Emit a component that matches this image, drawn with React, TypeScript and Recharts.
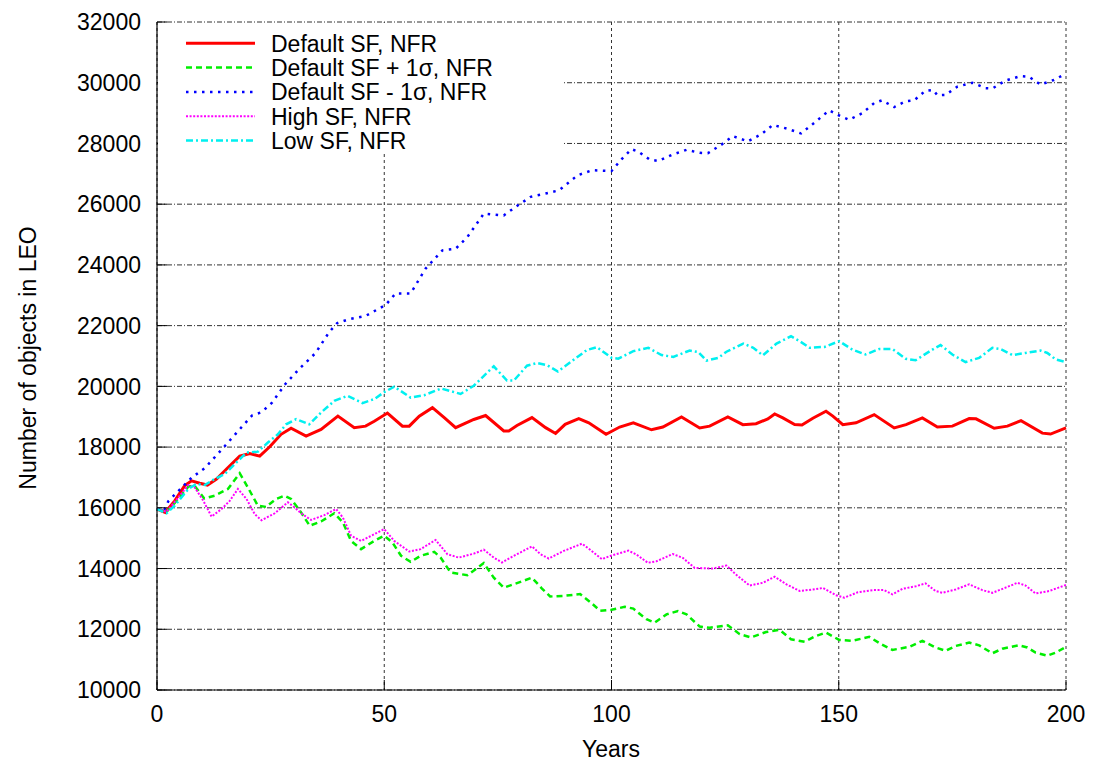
import React from "react";
import { LineChart, Line, XAxis, YAxis, CartesianGrid, Label } from "recharts";

// [year, number of objects]
const defaultSF: number[][] = [
  [0, 15960], [1.8, 15850], [3.9, 16230], [6.1, 16730], [7.6, 16890], [9.4, 16810], [11.1, 16750], [13.1, 16950],
  [15.3, 17280], [18.2, 17700], [20.4, 17790], [22.6, 17700], [24.8, 18010], [27.3, 18420], [29.5, 18620], [32.8, 18360],
  [36.1, 18580], [39.8, 19020], [43.4, 18640], [45.9, 18690], [47.8, 18850], [50.7, 19120], [54, 18690], [55.5, 18690],
  [57.7, 19020], [60.6, 19300], [63.2, 18970], [65.7, 18640], [69.7, 18910], [72.3, 19040], [76.3, 18530], [77.4, 18530],
  [79.2, 18710], [82.5, 18970], [85.5, 18640], [87.7, 18450], [89.8, 18750], [92.8, 18940], [95, 18800], [98.8, 18420],
  [101.8, 18660], [104.8, 18800], [108.8, 18570], [111.3, 18660], [115.4, 18990], [119.4, 18630], [121.6, 18690],
  [125.6, 18990], [128.9, 18740], [131.8, 18770], [134.4, 18930], [135.9, 19090], [137.7, 18960], [140.3, 18740],
  [141.9, 18730], [144.3, 18950], [147.2, 19180], [148.7, 19020], [150.9, 18740], [153.8, 18800], [157.8, 19070],
  [162.2, 18630], [164.8, 18740], [168.4, 18960], [171.7, 18660], [175, 18690], [178.7, 18940], [180.2, 18930],
  [184.2, 18620], [187.1, 18690], [190.1, 18870], [194.8, 18460], [196.6, 18430], [200, 18630],
];

const plusSigma: number[][] = [
  [0, 15960], [2.1, 15870], [4.7, 16290], [6.9, 16700], [8.3, 16720], [10.4, 16310], [12.7, 16400], [15.6, 16620],
  [18.2, 17140], [20, 16670], [22.2, 16070], [24, 16030], [26.2, 16290], [28.1, 16400], [29.5, 16290], [31.7, 15850],
  [33.6, 15410], [36.1, 15550], [39, 15820], [40.9, 15520], [42.7, 14910], [44.9, 14640], [47.8, 14910], [50, 15080],
  [51.8, 14860], [53.7, 14420], [55.8, 14220], [58, 14420], [61, 14550], [62.4, 14360], [64.6, 13870], [68.3, 13780],
  [70.1, 13980], [71.9, 14180], [74.1, 13700], [76.3, 13370], [79.2, 13520], [82.5, 13700], [84.7, 13340], [86.5, 13080],
  [89.5, 13100], [93.1, 13160], [95.3, 12900], [97.5, 12610], [100, 12640], [102.9, 12740], [104.8, 12680], [107.7, 12330],
  [109.5, 12220], [112.1, 12490], [114.6, 12600], [116.5, 12490], [119.4, 12090], [121.6, 12050], [125.6, 12130],
  [128.2, 11840], [130.7, 11730], [134, 11910], [137, 11980], [139.5, 11670], [142.5, 11590], [145, 11780], [147.2, 11890],
  [150.1, 11650], [153, 11620], [156.7, 11750], [159.3, 11510], [161.8, 11320], [165.5, 11420], [168.4, 11620],
  [171.3, 11400], [173.5, 11290], [175.7, 11450], [178.7, 11560], [180.9, 11470], [183.8, 11210], [186, 11360],
  [189.6, 11470], [191.5, 11400], [193.3, 11230], [195.9, 11130], [197.7, 11230], [200, 11420],
];

const minusSigma: number[][] = [
  [0, 15960], [1.5, 15900], [2.5, 16220], [5, 16600], [7.6, 16990], [10.6, 17320], [14.6, 17980], [17.2, 18420],
  [20.9, 19040], [23, 19150], [25.3, 19460], [28.2, 20070], [31.2, 20560], [34.9, 21100], [37.8, 21770], [39.6, 22080],
  [42.2, 22210], [45.9, 22320], [50.3, 22680], [52.5, 23060], [55.8, 23060], [59.1, 23880], [62.8, 24480], [65.7, 24530],
  [68.3, 24920], [71.9, 25690], [76.3, 25630], [78.9, 25910], [82.2, 26240], [85.5, 26350], [88.5, 26460], [92.5, 26950],
  [95.8, 27120], [100, 27090], [102.2, 27480], [104.4, 27810], [105.9, 27730], [108.4, 27470], [110.3, 27420],
  [113.2, 27620], [116.5, 27790], [119.4, 27690], [121.2, 27680], [124.2, 27960], [126.7, 28240], [130, 28070],
  [133, 28310], [135.5, 28610], [138.8, 28480], [141.7, 28330], [144.3, 28640], [147.9, 29090], [150.1, 28920],
  [152.3, 28780], [155.2, 29000], [157.8, 29330], [159.5, 29420], [162.2, 29200], [164.7, 29390], [166.6, 29420],
  [169, 29730], [170.8, 29760], [171.7, 29590], [173.5, 29600], [176.1, 29870], [179.4, 30000], [182.3, 29820],
  [183.8, 29810], [186.7, 30070], [190, 30220], [191.8, 30200], [194.4, 29940], [197.3, 30090], [200, 30300],
];

const highSF: number[][] = [
  [0, 15960], [2.1, 15870], [4.7, 16340], [6.9, 16750], [8.3, 16670], [10.2, 16230], [12, 15710], [14.2, 15960],
  [16, 16230], [17.8, 16620], [19.7, 16290], [21.5, 15790], [23, 15590], [25.9, 15820], [28.8, 16180], [30.3, 16010],
  [31.7, 15820], [33.9, 15600], [36.8, 15760], [39.4, 15960], [40.9, 15680], [42.7, 15080], [44.9, 14910], [47.8, 15130],
  [50, 15300], [52.2, 14910], [55.5, 14560], [58, 14640], [61.3, 14940], [63.9, 14470], [66.4, 14360], [69.7, 14490],
  [71.9, 14620], [74.1, 14360], [75.9, 14200], [78.8, 14440], [82.5, 14730], [84.4, 14470], [86.2, 14330], [89.5, 14580],
  [93.5, 14820], [95.3, 14620], [97.9, 14310], [100, 14430], [103.7, 14590], [105.5, 14460], [108, 14190], [109.9, 14240],
  [113.5, 14480], [115.7, 14350], [118.3, 14020], [122.3, 14000], [125.3, 14100], [127.4, 13800], [130.4, 13440],
  [133.3, 13530], [135.9, 13730], [138.5, 13480], [141.4, 13260], [144.3, 13310], [146.5, 13360], [149.4, 13120],
  [151.2, 13040], [154.2, 13220], [157.5, 13290], [160, 13290], [161.8, 13150], [164, 13330], [167, 13420], [169.1, 13510],
  [171.3, 13260], [172.8, 13200], [175.7, 13310], [178.7, 13480], [181.6, 13290], [183.8, 13200], [186.7, 13370],
  [189.3, 13530], [191.1, 13440], [193.3, 13180], [196.3, 13260], [200, 13460],
];

const lowSF: number[][] = [
  [0, 15960], [2.1, 15820], [3.9, 16070], [6.9, 16620], [8.7, 16790], [10.5, 16750], [12.7, 16950], [14.9, 17110],
  [17.1, 17440], [19.7, 17820], [22.2, 17850], [24.4, 18150], [26.6, 18420], [28.4, 18750], [30.6, 18920], [33.5, 18750],
  [36.1, 19140], [39, 19520], [41.9, 19690], [45.2, 19450], [47.8, 19580], [49.9, 19800], [52.2, 19990], [55.8, 19630],
  [58.8, 19710], [62.5, 19930], [66.8, 19750], [69.7, 20020], [72.7, 20460], [74.1, 20660], [77, 20190], [78.5, 20190],
  [81.4, 20680], [83.6, 20770], [85.8, 20700], [88.2, 20490], [91, 20800], [94.6, 21200], [96.8, 21290], [100, 20940],
  [101.5, 20910], [104.8, 21160], [108.1, 21270], [111, 21030], [113.6, 20970], [117.2, 21180], [119.1, 21130],
  [120.9, 20850], [123.5, 20940], [125.3, 21140], [129, 21410], [131.2, 21270], [133.3, 21020], [136.3, 21410],
  [139.5, 21650], [141.4, 21490], [143.6, 21270], [146.9, 21300], [150.1, 21490], [153, 21210], [155.9, 21050],
  [158.9, 21230], [161.8, 21230], [164.7, 20910], [166.9, 20860], [170.6, 21210], [172.4, 21360], [175, 21050],
  [177.9, 20800], [180.9, 20940], [183.8, 21270], [185.6, 21230], [188.2, 21030], [191.1, 21100], [194.4, 21180],
  [195.9, 21100], [197.7, 20890], [200, 20800],
];

const xTicks = [0, 50, 100, 150, 200];
const yTicks = [10000, 12000, 14000, 16000, 18000, 20000, 22000, 24000, 26000, 28000, 30000, 32000];

const seriesNames = [
  "Default SF, NFR",
  "Default SF + 1\u03c3, NFR",
  "Default SF - 1\u03c3, NFR",
  "High SF, NFR",
  "Low SF, NFR",
];

const toPoints = (arr: number[][]) => arr.map(([x, y]) => ({ x, y }));

const FONT = "'Liberation Sans', Arial, Helvetica, sans-serif";

const styles = [
  { data: defaultSF, color: "#ff0000", dash: undefined as string | undefined, width: 3 },
  { data: plusSigma, color: "#00ee00", dash: "6 4", width: 2.5 },
  { data: minusSigma, color: "#0000ff", dash: "2.5 5.5", width: 2.5 },
  { data: highSF, color: "#ff00ff", dash: "2 1.6", width: 2 },
  { data: lowSF, color: "#00f0f0", dash: "7 3 2 3", width: 2.5 },
];

const W = 1087;
const H = 755;

export default function App() {
  const tickStyle = { fontFamily: FONT, fontSize: 23, fill: "#000" };
  return (
    <div style={{ position: "relative", width: W, height: H, background: "#fff" }}>
      <LineChart width={W} height={H} margin={{ top: 14, right: 29, bottom: 0, left: 0 }}>
        <CartesianGrid horizontal={true} vertical={false} stroke="#333" strokeWidth={1} strokeDasharray="5 2 1 2" />
        <CartesianGrid horizontal={false} vertical={true} stroke="#333" strokeWidth={1} strokeDasharray="3 3" />
        <XAxis
          dataKey="x"
          type="number"
          domain={[0, 200]}
          ticks={xTicks}
          height={73}
          stroke="#000"
          tickSize={-10}
          tickMargin={26}
          tick={tickStyle}
          axisLine={{ stroke: "#000", strokeWidth: 1.2 }}
          tickLine={{ stroke: "#000" }}
        >
          <Label
            content={() => (
              <text x={603} y={741} textAnchor="middle" dominantBaseline="central" style={{ fontFamily: FONT, fontSize: 23, fill: "#000" }}>
                Years
              </text>
            )}
          />
        </XAxis>
        <XAxis
          xAxisId="top"
          orientation="top"
          type="number"
          domain={[0, 200]}
          ticks={xTicks}
          height={0}
          tick={false}
          tickSize={-10}
          axisLine={{ stroke: "#000", strokeWidth: 1.2 }}
          tickLine={{ stroke: "#000" }}
        />
        <YAxis
          type="number"
          domain={[10000, 32000]}
          ticks={yTicks}
          width={149}
          interval={0}
          tickSize={-10}
          tickMargin={26}
          tick={tickStyle}
          axisLine={{ stroke: "#000", strokeWidth: 1.2 }}
          tickLine={{ stroke: "#000" }}
        >
          <Label
            content={() => (
              <text
                x={20}
                y={350}
                textAnchor="middle"
                dominantBaseline="central"
                transform="rotate(-90 20 350)"
                style={{ fontFamily: FONT, fontSize: 23, fill: "#000" }}
              >
                Number of objects in LEO
              </text>
            )}
          />
        </YAxis>
        <YAxis
          yAxisId="right"
          orientation="right"
          type="number"
          domain={[10000, 32000]}
          ticks={yTicks}
          interval={0}
          width={0}
          tick={false}
          tickSize={-10}
          axisLine={{ stroke: "#000", strokeWidth: 1.2 }}
          tickLine={{ stroke: "#000" }}
        />
        {styles.map((s, i) => (
          <Line
            key={i}
            data={toPoints(s.data)}
            dataKey="y"
            type="linear"
            stroke={s.color}
            strokeWidth={s.width}
            strokeDasharray={s.dash}
            dot={false}
            activeDot={false}
            isAnimationActive={false}
            name={seriesNames[i]}
          />
        ))}
      </LineChart>
      <div style={{ position: "absolute", left: 150, top: 15, width: 405, height: 131, background: "#fff" }}>
        <svg width={405} height={131}>
          {styles.map((s, i) => {
            const cy = 20.3 + i * 24.3;
            return (
              <g key={i}>
                <line x1={28} x2={97} y1={cy} y2={cy} stroke={s.color} strokeWidth={s.width} strokeDasharray={s.dash} />
                <text x={113} y={cy + 8.3} style={{ fontFamily: FONT, fontSize: 23, fill: "#000" }}>
                  {seriesNames[i]}
                </text>
              </g>
            );
          })}
        </svg>
      </div>
    </div>
  );
}
